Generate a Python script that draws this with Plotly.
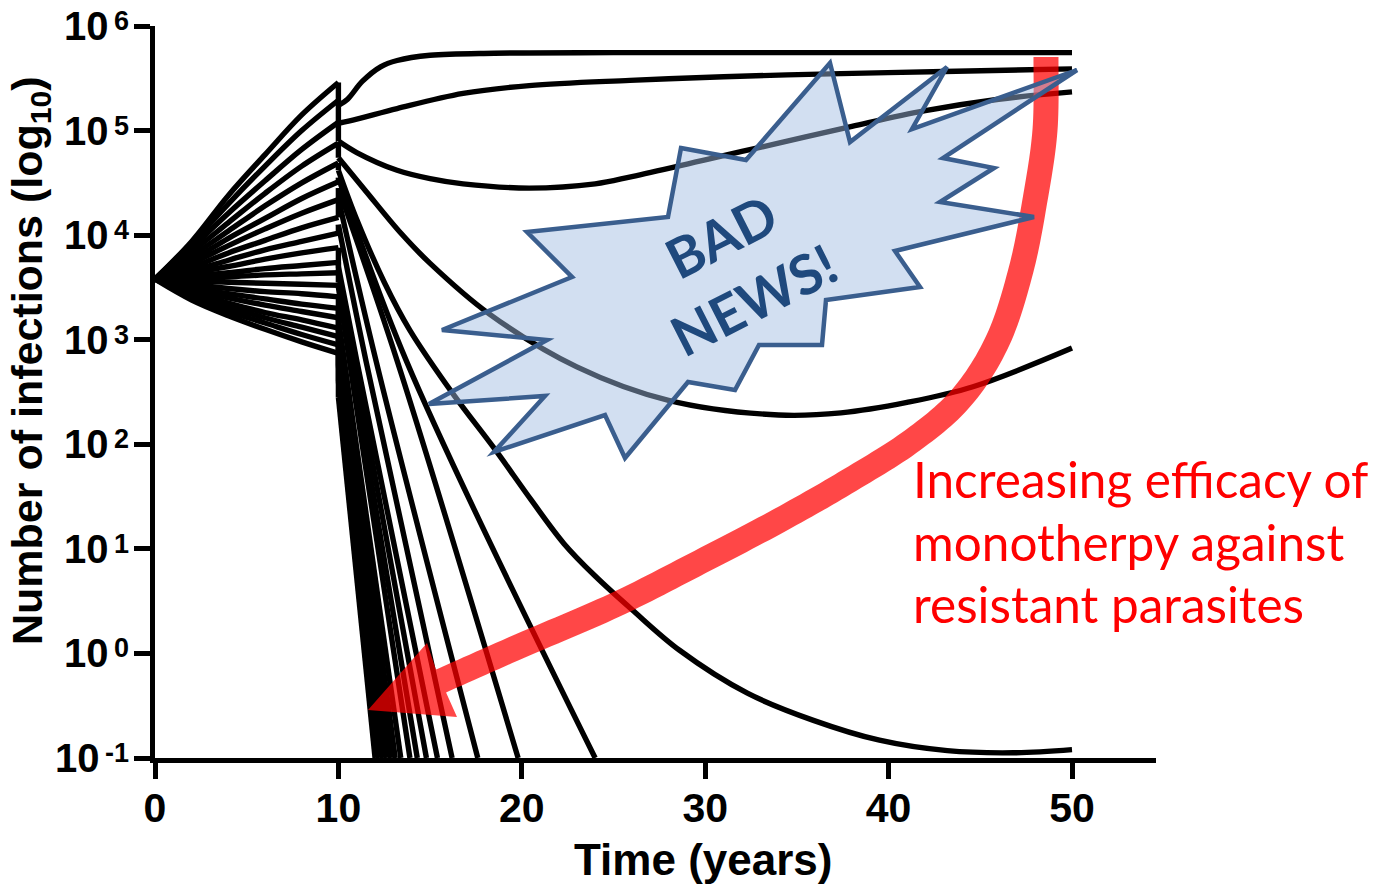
import numpy as np
import plotly.graph_objects as go

# ---------------------------------------------------------------------------
# Data: log10(number of infections) against time in years.
# Treatment starts at year 10.
# ---------------------------------------------------------------------------
pre_years = [0, 2, 4, 6, 8, 10]
pre_log10 = [
    [3.58, 3.94, 4.38, 4.77, 5.15, 5.46],
    [3.58, 3.92, 4.30, 4.66, 5.00, 5.29],
    [3.58, 3.88, 4.21, 4.52, 4.82, 5.08],
    [3.58, 3.84, 4.12, 4.40, 4.66, 4.88],
    [3.58, 3.80, 4.04, 4.28, 4.50, 4.69],
    [3.58, 3.76, 3.97, 4.16, 4.35, 4.51],
    [3.58, 3.73, 3.90, 4.06, 4.21, 4.34],
    [3.58, 3.69, 3.83, 3.95, 4.07, 4.17],
    [3.58, 3.66, 3.76, 3.86, 3.94, 4.02],
    [3.58, 3.64, 3.70, 3.77, 3.83, 3.88],
    [3.58, 3.61, 3.64, 3.68, 3.71, 3.74],
    [3.58, 3.59, 3.60, 3.62, 3.63, 3.64],
    [3.58, 3.56, 3.55, 3.54, 3.53, 3.52],
    [3.58, 3.53, 3.49, 3.46, 3.44, 3.41],
    [3.58, 3.50, 3.44, 3.39, 3.34, 3.30],
    [3.58, 3.48, 3.40, 3.33, 3.27, 3.21],
    [3.58, 3.45, 3.35, 3.26, 3.19, 3.11],
    [3.58, 3.43, 3.31, 3.21, 3.12, 3.03],
    [3.58, 3.41, 3.27, 3.16, 3.05, 2.95],
    [3.58, 3.38, 3.23, 3.10, 2.98, 2.87],
]

# Post-treatment trajectories that persist or rebound
persist_high_years = [10, 10.5, 11.3, 12.3, 13.2, 15, 18.5, 25, 35, 50]
persist_high_log10 = [5.24, 5.30, 5.47, 5.61, 5.67, 5.72, 5.74, 5.745, 5.745, 5.745]

persist_mid_years = [10, 11, 13.2, 16.8, 20.4, 25.9, 31, 37.4, 43, 50]
persist_mid_log10 = [5.07, 5.11, 5.21, 5.355, 5.43, 5.48, 5.515, 5.545, 5.565, 5.59]

rebound_early_years = [10, 11, 13.2, 15, 16.8, 20.4, 24, 26, 30, 34, 38, 42, 46, 50]
rebound_early_log10 = [4.90, 4.79, 4.62, 4.54, 4.49, 4.45, 4.49, 4.56, 4.72, 4.88, 5.04, 5.19, 5.30, 5.37]

rebound_late_years = [10, 11.5, 13.4, 15, 18.2, 23, 28, 34, 37.4, 41, 44.6, 50]
rebound_late_log10 = [4.74, 4.42, 4.02, 3.73, 3.25, 2.74, 2.42, 2.28, 2.30, 2.40, 2.55, 2.92]

slow_decline_years = [10, 11, 12.5, 13.9, 16.3, 18.5, 20.5, 22.3, 24, 26, 28.6, 32.3, 35.9, 39.5, 43.2, 46.8, 50]
slow_decline_log10 = [4.62, 4.15, 3.55, 3.09, 2.47, 1.96, 1.47, 1.05, 0.74, 0.42, 0.03, -0.38, -0.64, -0.83, -0.93, -0.95, -0.92]

# Post-treatment trajectories that are cleared (reach 10^-1)
cleared_years = [
    [10, 13.7, 24.0], [10, 13.2, 19.8], [10, 12.05, 17.6], [10, 11.5, 16.2],
    [10, 11.0, 15.4], [10, 10.85, 14.8], [10, 10.7, 14.3], [10, 10.6, 13.9],
    [10, 13.4], [10, 13.1], [10, 12.85], [10, 12.6], [10, 12.4], [10, 12.2], [10, 12.0],
]
cleared_log10 = [
    [4.55, 2.8, -1], [4.45, 2.8, -1], [4.35, 2.8, -1], [4.10, 2.8, -1],
    [3.70, 2.8, -1], [3.65, 2.8, -1], [3.55, 2.8, -1], [3.50, 2.8, -1],
    [3.20, -1], [3.10, -1], [3.00, -1], [2.90, -1], [2.75, -1], [2.60, -1], [2.45, -1],
]

x_ticks = [0, 10, 20, 30, 40, 50]
y_tick_exponents = [-1, 0, 1, 2, 3, 4, 5, 6]

# ---------------------------------------------------------------------------
# Page geometry (pixels)
# ---------------------------------------------------------------------------
W, H = 1373, 887
PLOT_L, PLOT_R, PLOT_T, PLOT_B = 155, 1156, 26, 758
X_MAX = 54.58

post_curves = [
    (persist_high_years, persist_high_log10),
    (persist_mid_years, persist_mid_log10),
    (rebound_early_years, rebound_early_log10),
    (rebound_late_years, rebound_late_log10),
    (slow_decline_years, slow_decline_log10),
] + list(zip(cleared_years, cleared_log10))

fig = go.Figure()
black = dict(color="black", width=5.4)

for vals in pre_log10:
    fig.add_trace(go.Scatter(x=pre_years, y=[10 ** v for v in vals], mode="lines",
                             line=dict(shape="spline", **black), hoverinfo="skip"))

# instantaneous change when treatment begins
drop_x, drop_y = [], []
for vals, (_, post) in zip(pre_log10, post_curves):
    drop_x += [10, 10, None]
    drop_y += [10 ** vals[-1], 10 ** post[0], None]
fig.add_trace(go.Scatter(x=drop_x, y=drop_y, mode="lines", line=black, hoverinfo="skip"))

for yrs, vals in post_curves:
    fig.add_trace(go.Scatter(x=yrs, y=[10 ** v for v in vals], mode="lines",
                             line=dict(shape="spline", **black), hoverinfo="skip"))


# ---------------------------------------------------------------------------
# Decorations (drawn in page pixels, converted to paper coordinates)
# ---------------------------------------------------------------------------
def to_paper(points):
    return [((x - PLOT_L) / (PLOT_R - PLOT_L), (PLOT_B - y) / (PLOT_B - PLOT_T)) for x, y in points]


def svg_path(points):
    p = to_paper(points)
    return "M " + " L ".join(f"{x:.5f},{y:.5f}" for x, y in p) + " Z"


def catmull_rom(points, n=14):
    pts = np.asarray(points, float)
    pts = np.vstack([pts[0], pts, pts[-1]])
    out = []
    for i in range(1, len(pts) - 2):
        p0, p1, p2, p3 = pts[i - 1], pts[i], pts[i + 1], pts[i + 2]
        for s in np.linspace(0, 1, n, endpoint=False):
            out.append(0.5 * ((2 * p1) + (-p0 + p2) * s + (2 * p0 - 5 * p1 + 4 * p2 - p3) * s ** 2
                              + (-p0 + 3 * p1 - 3 * p2 + p3) * s ** 3))
    out.append(pts[-2])
    return np.array(out)


# curved red arrow
arrow_centre = [(1046, 57), (1045, 130), (1035, 200), (1021, 270), (998, 340), (962, 397),
                (913, 440), (850, 480), (780, 520), (700, 562), (615, 605), (520, 646), (441, 681)]
arrow_head = [(427, 643), (368, 710), (457, 717)]
half_w = 12.5
c = catmull_rom(arrow_centre)
tang = np.gradient(c, axis=0)
tang /= np.linalg.norm(tang, axis=1)[:, None]
norm = np.column_stack([-tang[:, 1], tang[:, 0]])
side_a = c + norm * half_w
side_b = c - norm * half_w
arrow_poly = [tuple(p) for p in side_a] + arrow_head + [tuple(p) for p in side_b[::-1]]

# starburst callout
star = [(681, 148), (746, 160), (830, 63), (850, 142), (947, 67), (912, 129), (1077, 70),
        (943, 158), (994, 168), (940, 202), (1034, 217), (895, 251), (920, 287),
        (826, 300), (822, 345), (759, 345), (735, 390), (688, 382), (625, 458),
        (605, 415), (494, 452), (545, 396), (429, 404), (547, 340), (442, 330),
        (572, 277), (527, 232), (668, 217)]

shapes = [
    dict(type="path", path=svg_path(arrow_poly), xref="paper", yref="paper",
         fillcolor="rgba(255,0,0,0.72)", line=dict(width=0), layer="above"),
    dict(type="path", path=svg_path(star), xref="paper", yref="paper",
         fillcolor="rgba(160,188,226,0.47)", line=dict(color="#3a5e8e", width=4.5), layer="above"),
]


def px_x(x):
    return (x - PLOT_L) / (PLOT_R - PLOT_L)


def px_y(y):
    return (PLOT_B - y) / (PLOT_B - PLOT_T)


annotations = [
    dict(text="<b>BAD<br>NEWS!</b>", x=px_x(737), y=px_y(268), xref="paper", yref="paper",
         xanchor="center", yanchor="middle", textangle=-27, showarrow=False,
         font=dict(family="Lato", size=55, color="#1f497d")),
    dict(text="Increasing efficacy of", x=px_x(911), y=px_y(479), xref="paper", yref="paper",
         xanchor="left", yanchor="middle", showarrow=False,
         font=dict(family="Lato", size=49.5, color="#ff0000")),
    dict(text="monotherpy against", x=px_x(911), y=px_y(542), xref="paper", yref="paper",
         xanchor="left", yanchor="middle", showarrow=False,
         font=dict(family="Lato", size=49.5, color="#ff0000")),
    dict(text="resistant parasites", x=px_x(911), y=px_y(604), xref="paper", yref="paper",
         xanchor="left", yanchor="middle", showarrow=False,
         font=dict(family="Lato", size=49.5, color="#ff0000")),
    dict(text="<b>Time (years)</b>", x=px_x(703), y=px_y(859), xref="paper", yref="paper",
         xanchor="center", yanchor="middle", showarrow=False,
         font=dict(family="Liberation Sans", size=44, color="black")),
    dict(text="<b>Number of infections (log<sub>10</sub>)</b>", x=px_x(30), y=px_y(361),
         xref="paper", yref="paper", xanchor="center", yanchor="middle", textangle=-90,
         showarrow=False, font=dict(family="Liberation Sans", size=43, color="black")),
]

# power-of-ten labels with a raised exponent
y_ticktext = [
    f"<b>10<span style='font-size:27px;baseline-shift:10px'>\u2009{e}</span></b>"
    for e in y_tick_exponents
]

fig.update_layout(
    width=W, height=H, template="none",
    margin=dict(l=PLOT_L, r=W - PLOT_R, t=PLOT_T, b=H - PLOT_B, pad=0),
    paper_bgcolor="white", plot_bgcolor="white", showlegend=False,
    shapes=shapes, annotations=annotations,
)
axis_common = dict(showline=True, linewidth=5, linecolor="black", ticks="outside",
                   ticklen=16, tickwidth=5, tickcolor="black", showgrid=False,
                   zeroline=False, automargin=False, ticklabeloverflow="allow")
fig.update_xaxes(range=[0, X_MAX], tickvals=x_ticks, ticktext=[f"<b>{v}</b>" for v in x_ticks],
                 tickfont=dict(family="Liberation Sans", size=41, color="black"),
                 ticklabelstandoff=-6, **axis_common)
fig.update_yaxes(type="log", range=[-1, 6], tickvals=[10.0 ** e for e in y_tick_exponents],
                 ticktext=y_ticktext,
                 tickfont=dict(family="Liberation Sans", size=40, color="black"),
                 ticklabelstandoff=-3, **axis_common)

fig.write_html("out.html")
